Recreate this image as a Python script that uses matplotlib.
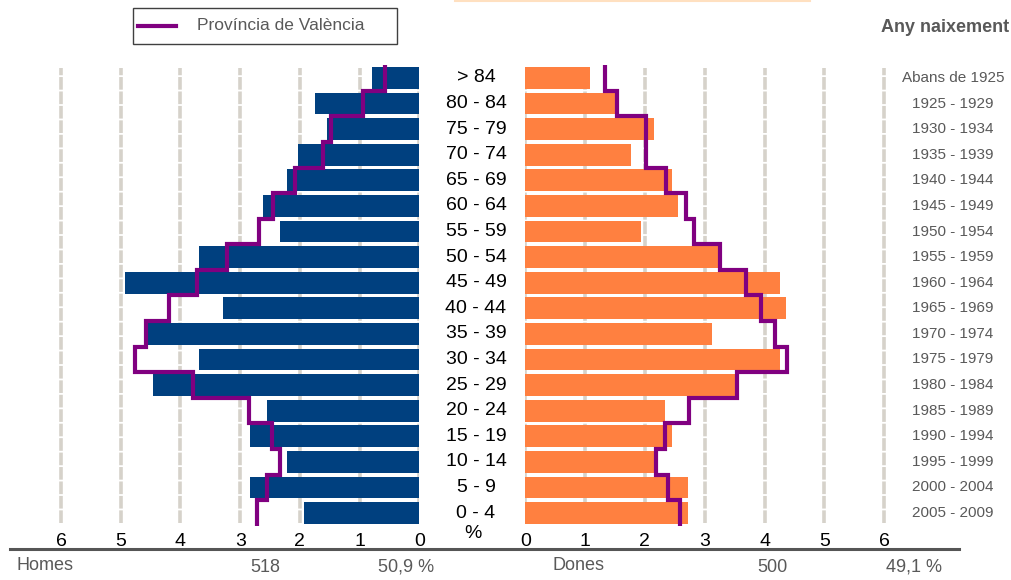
import numpy as np
import matplotlib
matplotlib.use('Agg')
import matplotlib.pyplot as plt
from matplotlib.transforms import blended_transform_factory
from matplotlib.lines import Line2D

###########################################################
# data (bottom row first)

ages = ['0 - 4', '5 - 9', '10 - 14', '15 - 19', '20 - 24', '25 - 29', '30 - 34',
        '35 - 39', '40 - 44', '45 - 49', '50 - 54', '55 - 59', '60 - 64',
        '65 - 69', '70 - 74', '75 - 79', '80 - 84', '> 84']
years = ['2005 - 2009', '2000 - 2004', '1995 - 1999', '1990 - 1994',
         '1985 - 1989', '1980 - 1984', '1975 - 1979', '1970 - 1974',
         '1965 - 1969', '1960 - 1964', '1955 - 1959', '1950 - 1954',
         '1945 - 1949', '1940 - 1944', '1935 - 1939', '1930 - 1934',
         '1925 - 1929', 'Abans de 1925']

men = [1.93, 2.84, 2.22, 2.84, 2.55, 4.46, 3.69, 4.57, 3.29, 4.93, 3.69,
       2.33, 2.62, 2.22, 2.03, 1.54, 1.75, 0.79]
women = [2.72, 2.72, 2.18, 2.45, 2.33, 3.54, 4.26, 3.12, 4.36, 4.26, 3.22,
         1.93, 2.55, 2.45, 1.77, 2.15, 1.50, 1.08]
prov_men = [2.72, 2.55, 2.33, 2.47, 2.86, 3.79, 4.76, 4.58, 4.19, 3.72, 3.22,
            2.68, 2.45, 2.08, 1.61, 1.48, 0.94, 0.57]
prov_women = [2.58, 2.39, 2.18, 2.33, 2.73, 3.54, 4.37, 4.17, 3.94, 3.69,
              3.26, 2.82, 2.68, 2.36, 2.01, 2.01, 1.54, 1.33]

ticks = [0, 1, 2, 3, 4, 5, 6]
n_men, pct_men = '518', '50,9 %'
n_women, pct_women = '500', '49,1 %'

###########################################################
# style

W, H = 1011, 580
blue = '#00407f'
orange = '#ff8040'
purple = '#800080'
grid_c = '#d6d2ca'
grey_txt = '#595959'
font = ['Liberation Sans', 'DejaVu Sans']

def fx(x):
    return x / W

def fy(y):
    return 1 - y / H

def step_xy(vals, half=0.43):
    xs, ys = [], []
    n = len(vals)
    for i, v in enumerate(vals):
        lo = i - 0.5 if i > 0 else i - half
        hi = i + 0.5 if i < n - 1 else i + half
        xs += [v, v]
        ys += [lo, hi]
    return xs, ys

fig = plt.figure(figsize=(W / 100, H / 100), dpi=100)

ytop, ybot = 65.2, 525.8
ax_l = fig.add_axes([fx(55.1), fy(ybot), fx(419.3 - 55.1), (ybot - ytop) / H])
ax_r = fig.add_axes([fx(525.3), fy(ybot), fx(890.1 - 525.3), (ybot - ytop) / H])

pos = np.arange(len(ages))
for ax, vals, prov, col in [(ax_l, men, prov_men, blue),
                            (ax_r, women, prov_women, orange)]:
    for t in ticks:
        ax.axvline(t, ymin=0.005, ymax=0.995, color=grid_c, lw=2.6,
                   ls=(0, (3.5, 0.5)), zorder=0)
    ax.barh(pos, vals, height=0.85, color=col, zorder=2)
    xs, ys = step_xy(prov)
    ax.plot(xs, ys, color=purple, lw=3.0, zorder=3,
            solid_joinstyle='miter')
    ax.set_ylim(-0.5, len(ages) - 0.5)
    ax.set_yticks([])
    ax.set_xticks(ticks)
    ax.set_xticklabels([str(t) for t in ticks], family=font, fontsize=14)
    ax.tick_params(axis='x', length=0, pad=5)
    for s in ax.spines.values():
        s.set_visible(False)
    ax.patch.set_alpha(0)

ax_l.set_xlim(6.1, 0)
ax_r.set_xlim(0, 6.1)

# age and birth-year labels
tr = blended_transform_factory(fig.transFigure, ax_l.transData)
for i in pos:
    ax_l.text(fx(476), i, ages[i], transform=tr, ha='center', va='center',
              fontsize=14, family=font, color='black')
    ax_l.text(fx(953), i, years[i], transform=tr, ha='center', va='center',
              fontsize=11, family=font, color=grey_txt)

fig.text(fx(473), fy(533), '%', ha='center', va='center', fontsize=14,
         family=font, color='black')

# bottom rule and totals
fig.add_artist(Line2D([fx(10), fx(959)], [fy(549), fy(549)], color='#555555',
                      lw=2.2))
fig.text(fx(17), fy(565), 'Homes', ha='left', va='center', fontsize=13,
         family=font, color=grey_txt)
fig.text(fx(265), fy(567), n_men, ha='center', va='center', fontsize=13,
         family=font, color=grey_txt)
fig.text(fx(406), fy(567), pct_men, ha='center', va='center', fontsize=13,
         family=font, color=grey_txt)
fig.text(fx(552), fy(565), 'Dones', ha='left', va='center', fontsize=13,
         family=font, color=grey_txt)
fig.text(fx(772), fy(567), n_women, ha='center', va='center', fontsize=13,
         family=font, color=grey_txt)
fig.text(fx(914), fy(567), pct_women, ha='center', va='center', fontsize=13,
         family=font, color=grey_txt)

fig.text(fx(1009), fy(28), 'Any naixement', ha='right', va='center',
         fontsize=13, family=font, color=grey_txt, weight='bold')

# legend box
fig.add_artist(plt.Rectangle((fx(133), fy(44)), fx(397 - 133), (44 - 8) / H,
                             fill=False, ec='#404040', lw=1.0))
fig.add_artist(Line2D([fx(138), fx(176)], [fy(26), fy(26)], color=purple,
                      lw=3.0))
fig.text(fx(197), fy(26), 'Província de València', ha='left', va='center',
         fontsize=12.5, family=font, color=grey_txt)

# faint line at top edge
fig.add_artist(Line2D([fx(455), fx(810)], [fy(0.5), fy(0.5)], color='#ffe0c0',
                      lw=1.5))

fig.savefig('out.png', dpi=100)
